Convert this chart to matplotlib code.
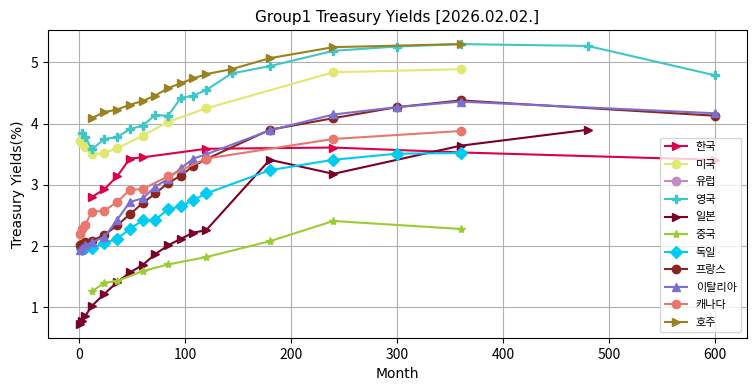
import matplotlib
matplotlib.use('Agg')
import matplotlib.pyplot as plt

plt.rcParams['font.family'] = ['Noto Sans CJK KR', 'DejaVu Sans']

# maturities in months and yields (%) per country
kr_m = [12, 24, 36, 48, 60, 120, 240, 360, 600]
kr_y = [2.80, 2.93, 3.14, 3.43, 3.45, 3.59, 3.61, 3.53, 3.41]

us_m = [1, 3, 6, 12, 24, 36, 60, 84, 120, 240, 360]
us_y = [3.72, 3.68, 3.62, 3.50, 3.52, 3.60, 3.80, 4.03, 4.25, 4.84, 4.89]

eu_m = []
eu_y = []

uk_m = [3, 6, 12, 24, 36, 48, 60, 72, 84, 96, 108, 120, 144, 180, 240, 300, 360, 480, 600]
uk_y = [3.84, 3.79, 3.58, 3.75, 3.78, 3.91, 3.97, 4.14, 4.13, 4.42, 4.46, 4.55, 4.82, 4.94, 5.19, 5.26, 5.30, 5.27, 4.79]

jp_m = [1, 3, 6, 12, 24, 36, 48, 60, 72, 84, 96, 108, 120, 180, 240, 360, 480]
jp_y = [0.73, 0.77, 0.86, 1.02, 1.22, 1.41, 1.57, 1.69, 1.87, 2.01, 2.12, 2.22, 2.26, 3.41, 3.18, 3.64, 3.90]

cn_m = [12, 24, 36, 60, 84, 120, 180, 240, 360]
cn_y = [1.26, 1.40, 1.43, 1.59, 1.70, 1.82, 2.08, 2.41, 2.28]

de_m = [3, 6, 12, 24, 36, 48, 60, 72, 84, 96, 108, 120, 180, 240, 300, 360]
de_y = [1.95, 1.97, 1.97, 2.05, 2.12, 2.28, 2.42, 2.43, 2.60, 2.65, 2.75, 2.86, 3.24, 3.41, 3.51, 3.52]

fr_m = [1, 3, 6, 12, 24, 36, 48, 60, 72, 84, 96, 108, 120, 180, 240, 300, 360, 600]
fr_y = [2.01, 2.04, 2.07, 2.09, 2.18, 2.34, 2.52, 2.70, 2.86, 3.03, 3.15, 3.31, 3.42, 3.90, 4.09, 4.27, 4.38, 4.13]

it_m = [1, 3, 6, 12, 24, 36, 48, 60, 72, 84, 96, 108, 120, 180, 240, 300, 360, 600]
it_y = [1.93, 1.97, 2.02, 2.06, 2.15, 2.43, 2.72, 2.78, 2.97, 3.10, 3.27, 3.43, 3.50, 3.89, 4.15, 4.27, 4.36, 4.17]

ca_m = [1, 3, 6, 12, 24, 36, 48, 60, 84, 120, 240, 360]
ca_y = [2.20, 2.28, 2.35, 2.56, 2.58, 2.72, 2.92, 2.93, 3.14, 3.43, 3.75, 3.88]

au_m = [12, 24, 36, 48, 60, 72, 84, 96, 108, 120, 144, 180, 240, 360]
au_y = [4.09, 4.19, 4.23, 4.31, 4.37, 4.46, 4.58, 4.66, 4.74, 4.81, 4.89, 5.07, 5.25, 5.30]

series = [
    ('한국', kr_m, kr_y, '#dc0048', '>'),
    ('미국', us_m, us_y, '#e0e870', 'o'),
    ('유럽', eu_m, eu_y, '#c38bc2', 'o'),
    ('영국', uk_m, uk_y, '#3ec6c8', 'P'),
    ('일본', jp_m, jp_y, '#7a0028', '>'),
    ('중국', cn_m, cn_y, '#9acd32', '*'),
    ('독일', de_m, de_y, '#00ccf2', 'D'),
    ('프랑스', fr_m, fr_y, '#8b2522', 'o'),
    ('이탈리아', it_m, it_y, '#7b6fd0', '^'),
    ('캐나다', ca_m, ca_y, '#e8776e', 'o'),
    ('호주', au_m, au_y, '#9a8220', '>'),
]

fig = plt.figure(figsize=(7.55, 3.91), dpi=100)
ax = fig.add_axes([0.064, 0.136, 0.925, 0.787])

for name, m, y, c, mk in series:
    ax.plot(m, y, color=c, marker=mk, label=name)

ax.set_title('Group1 Treasury Yields [2026.02.02.]', fontsize=11, family='DejaVu Sans')
ax.set_xlabel('Month', family='DejaVu Sans')
ax.set_ylabel('Treasury Yields(%)', family='DejaVu Sans')
ax.grid(True)
ax.legend(loc='lower right', fontsize=8, labelspacing=0.68)

fig.savefig('out.png')
